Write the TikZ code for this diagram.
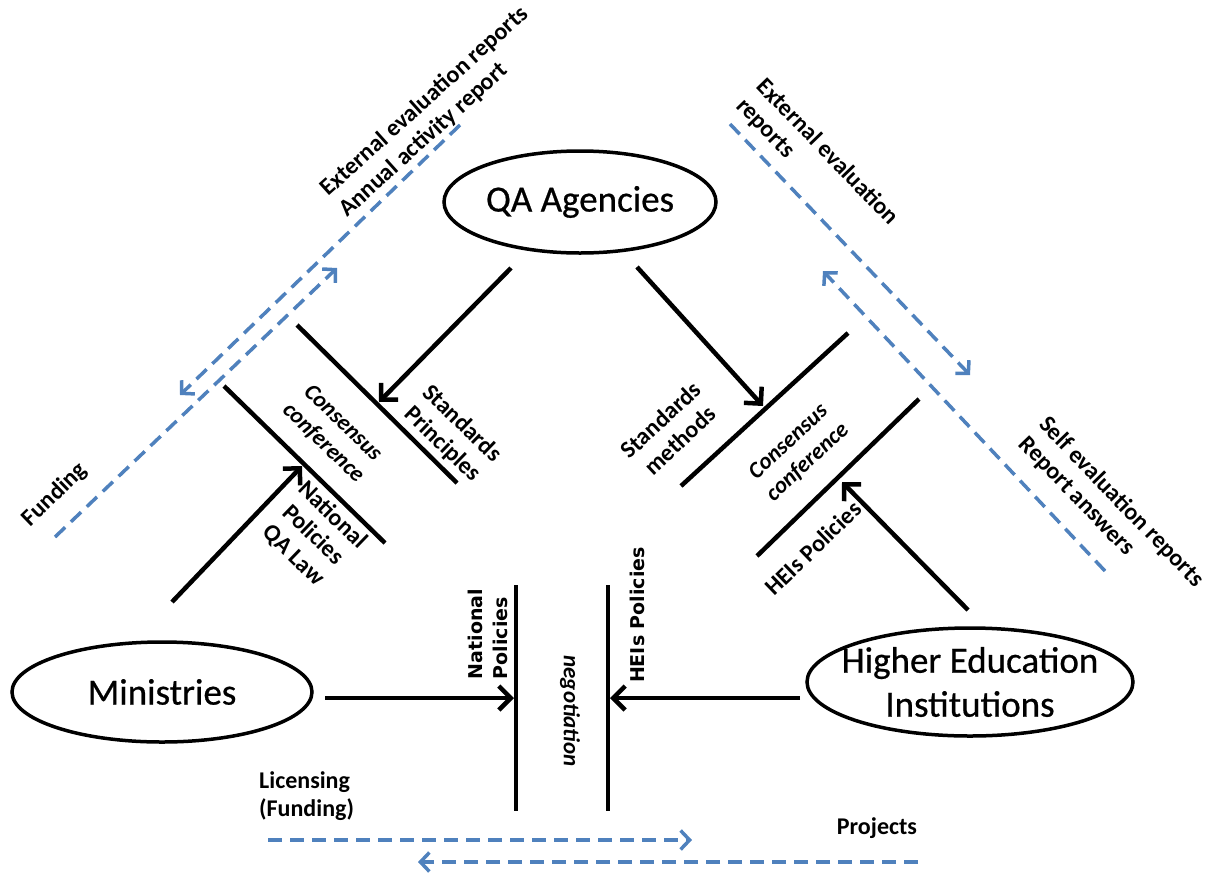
\documentclass[tikz,border=0pt]{standalone}
\usepackage{fontspec}
\setmainfont{Carlito}
\newfontfamily\verdfont{DejaVu Sans}
\newfontfamily\semibfont[FakeBold=0.6]{Carlito}
\usetikzlibrary{arrows.meta,shapes.geometric}
\definecolor{qblue}{RGB}{79,129,189}
\begin{document}
\begin{tikzpicture}[x=1pt,y=-1pt,
  oval/.style={ellipse,draw,line width=3.5pt,inner sep=0pt,align=center,
    font=\semibfont\fontsize{37}{44}\selectfont},
  barline/.style={line width=4.5pt},
  blackarrow/.style={line width=4.5pt,-{Straight Barb[length=12pt,width=24pt,line width=4.5pt]}},
  bluearrow/.style={qblue,line width=3.5pt,dash pattern=on 14pt off 8pt,
    -{Straight Barb[length=9pt,width=19pt,line width=3.5pt]}},
  lbl/.style={inner sep=0pt,font=\bfseries\fontsize{24}{28}\selectfont},
  ilbl/.style={inner sep=0pt,font=\bfseries\itshape\fontsize{23}{28}\selectfont},
  vlbl/.style={inner sep=0pt,font=\verdfont\bfseries\fontsize{19}{25}\selectfont}]
\useasboundingbox (0,0) rectangle (1207,873);

% ovals
\node[oval,minimum width=272pt,minimum height=102pt] (qa) at (580,202) {QA Agencies};
\node[oval,minimum width=300pt,minimum height=100pt] (min) at (162,692) {Ministries};
\node[oval,minimum width=326pt,minimum height=108pt,inner xsep=-16pt,inner ysep=-6pt] (hei) at (970,682) {Higher Education\\Institutions};

% coordinates
\coordinate (lb1a) at (297,325); \coordinate (lb1b) at (457,483);
\coordinate (lb2a) at (224,386); \coordinate (lb2b) at (385,543);
\coordinate (rb1a) at (848,333); \coordinate (rb1b) at (681,486);
\coordinate (rb2a) at (919,399); \coordinate (rb2b) at (757,556);
\coordinate (vb1a) at (516,585); \coordinate (vb1b) at (516,811);
\coordinate (vb2a) at (608,585); \coordinate (vb2b) at (608,811);

\coordinate (qaL) at (511,268); \coordinate (qaLt) at (379,402);
\coordinate (qaR) at (637,267); \coordinate (qaRt) at (763,406);
\coordinate (minU) at (172,602); \coordinate (minUt) at (302,466);
\coordinate (heiU) at (968,610); \coordinate (heiUt) at (842,482);
\coordinate (minR) at (325,698); \coordinate (minRt) at (514,698);
\coordinate (heiL) at (800,698); \coordinate (heiLt) at (610,698);

% bars
\draw[barline] (lb1a) -- (lb1b);
\draw[barline] (lb2a) -- (lb2b);
\draw[barline] (rb1a) -- (rb1b);
\draw[barline] (rb2a) -- (rb2b);
\draw[barline] (vb1a) -- (vb1b);
\draw[barline] (vb2a) -- (vb2b);

% black arrows
\draw[blackarrow] (qaL) -- (qaLt);
\draw[blackarrow] (qaR) -- (qaRt);
\draw[blackarrow] (minU) -- (minUt);
\draw[blackarrow] (heiU) -- (heiUt);
\draw[blackarrow] (minR) -- (minRt);
\draw[blackarrow] (heiL) -- (heiLt);

% blue dashed
\coordinate (bl1a) at (460,125); \coordinate (bl1b) at (180,395);
\coordinate (bl2a) at (55,537);  \coordinate (bl2b) at (337,268);
\coordinate (br1a) at (730,124); \coordinate (br1b) at (970,375);
\coordinate (br2a) at (1105,571); \coordinate (br2b) at (823,271);
\coordinate (bb1a) at (268,840); \coordinate (bb1b) at (692,840);
\coordinate (bb2a) at (918,862); \coordinate (bb2b) at (418,862);
\draw[bluearrow] (bl1a) -- (bl1b);
\draw[bluearrow] (bl2a) -- (bl2b);
\draw[bluearrow] (br1a) -- (br1b);
\draw[bluearrow] (br2a) -- (br2b);
\draw[bluearrow] (bb1a) -- (bb1b);
\draw[bluearrow] (bb2a) -- (bb2b);

% labels
\node[lbl,rotate=42,align=left] (t1) at (434,112) {External evaluation reports\\Annual activity report};
\node[lbl,rotate=44] (t2) at (55,495) {Funding};
\node[ilbl,rotate=-44,align=center] (t3) at (333,433) {Consensus\\conference};
\node[lbl,rotate=-44,align=center] (t4) at (452,434) {Standards\\Principles};
\node[lbl,rotate=-44,align=center] (t5) at (313,535) {National\\Policies\\QA Law};
\node[lbl,rotate=43,align=center] (t6) at (670,430) {Standards\\methods};
\node[ilbl,rotate=43,align=center] (t7) at (798,452) {Consensus\\conference};
\node[lbl,rotate=44] (t8) at (813,548) {HEIs Policies};
\node[lbl,rotate=-46,align=left] (t9) at (817,162) {External evaluation\\reports};
\node[lbl,rotate=-46,align=left] (t10) at (1111,512) {Self evaluation reports\\Report answers};
\node[vlbl,rotate=90,align=left] (t11) at (488,634) {National\\Policies};
\node[vlbl,rotate=90] (t12) at (637,615) {HEIs Policies};
\node[ilbl,rotate=-90] (t13) at (570,711) {negotiation};
\node[lbl,align=left,anchor=north west] (t14) at (259,771) {Licensing\\(Funding)};
\node[lbl] (t15) at (877,828) {Projects};
\end{tikzpicture}
\end{document}
